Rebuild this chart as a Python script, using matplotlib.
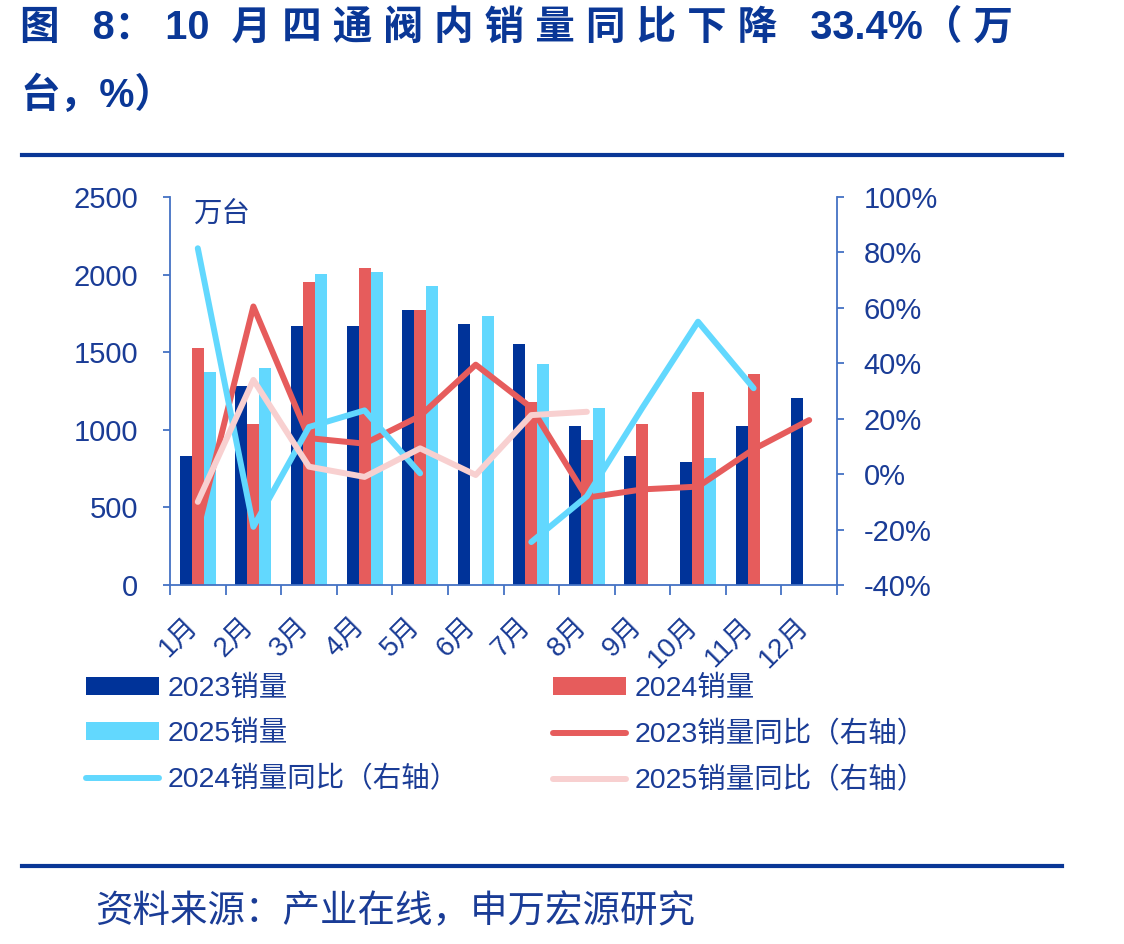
import numpy as np
import matplotlib.pyplot as plt
from matplotlib.ticker import FuncFormatter
from matplotlib.transforms import ScaledTranslation

plt.rcParams['font.family'] = ['Liberation Sans', 'Noto Sans CJK SC', 'DejaVu Sans']

# data (万台, %)
months = ['1月', '2月', '3月', '4月', '5月', '6月', '7月', '8月', '9月', '10月', '11月', '12月']
sales_2023 = [830, 1282, 1669, 1669, 1770, 1680, 1553, 1024, 831, 792, 1024, 1203]
sales_2024 = [1525, 1035, 1950, 2040, 1770, np.nan, 1177, 934, 1035, 1241, 1360, np.nan]
sales_2025 = [1370, 1396, 2002, 2015, 1925, 1731, 1422, 1138, np.nan, 816, np.nan, np.nan]
yoy_2023 = [-20, 60.5, 13, 11, 21, 39.5, 24, -8.5, -5.5, -4.5, 9, 19.5]
yoy_2024 = [81.5, -19, 17, 23, 0.3, np.nan, -24.5, -8, 24, 55, 31, np.nan]
yoy_2025 = [-10, 34, 2.7, -1, 9.3, -0.3, 21.3, 22.5, np.nan, np.nan, np.nan, np.nan]

NAVY = '#003399'
RED = '#E65C5C'
CYAN = '#62D8FE'
PINK = '#F8D0D0'
TEXT = '#1A3C96'
SPINE = '#4472C4'

fig = plt.figure(figsize=(11.24, 9.44), dpi=100)
ax = fig.add_axes([170 / 1124, 1 - 585 / 944, 667 / 1124, 388 / 944])
ax2 = ax.twinx()

x = np.arange(len(months))
w = 0.216
b1 = ax.bar(x - w, sales_2023, w, color=NAVY, label='2023销量')
b2 = ax.bar(x, sales_2024, w, color=RED, label='2024销量')
b3 = ax.bar(x + w, sales_2025, w, color=CYAN, label='2025销量')

lkw = dict(lw=4.3, solid_capstyle='round')
l1, = ax2.plot(x, yoy_2023, color=RED, label='2023销量同比（右轴）', **lkw)
l2, = ax2.plot(x, yoy_2024, color=CYAN, label='2024销量同比（右轴）', **lkw)
l3, = ax2.plot(x, yoy_2025, color=PINK, label='2025销量同比（右轴）', **lkw)

ax.set_xlim(-0.5, 11.5)
ax.set_ylim(0, 2500)
ax.set_yticks(range(0, 2501, 500))
ax2.set_ylim(-40, 100)
ax2.set_yticks(range(-40, 101, 20))
ax2.yaxis.set_major_formatter(FuncFormatter(lambda v, p: f'{v:.0f}%'))

# month boundaries carry the tick marks, centres carry the labels
ax.set_xticks(np.arange(-0.5, 12, 1))
ax.set_xticklabels([])
ax.set_xticks(x, minor=True)
ax.set_xticklabels(months, minor=True, rotation=45, ha='right', va='top')
ax.tick_params(axis='x', which='major', length=7, width=1.3, color=SPINE, direction='out')
ax.tick_params(axis='x', which='minor', length=0, pad=20, labelsize=20, labelcolor=TEXT)
shift = ScaledTranslation(5 / 100, 0, fig.dpi_scale_trans)
for lab in ax.get_xticklabels(minor=True):
    lab.set_transform(lab.get_transform() + shift)

for a in (ax, ax2):
    for s in a.spines.values():
        s.set_color(SPINE)
        s.set_linewidth(1.3)
    a.spines['top'].set_visible(False)
ax.spines['right'].set_visible(False)
ax2.spines['left'].set_visible(False)
ax2.spines['bottom'].set_visible(False)
ax.tick_params(axis='y', length=5, width=1.3, color=SPINE, labelsize=21, labelcolor=TEXT, pad=18)
ax2.tick_params(axis='y', length=5, width=1.3, color=SPINE, labelsize=21, labelcolor=TEXT, pad=14)

ax.text(0.034, 0.955, '万台', transform=ax.transAxes, fontsize=20.5, color=TEXT,
        ha='left', va='center')

fig.legend(handles=[b1, b3, l2, b2, l1, l3], loc='upper left',
           bbox_to_anchor=(86 / 1124, 1 - 676 / 944), ncol=2, frameon=False,
           fontsize=20.5, labelcolor=TEXT, handlelength=2.55, handleheight=0.6,
           handletextpad=0.32, columnspacing=3.3, labelspacing=0.66, borderpad=0,
           borderaxespad=0)

# title, rules and source
title_kw = dict(fontsize=28.5, fontweight='bold', color='#0A3796', ha='left', va='center')
fig.text(20 / 1124, 1 - 28 / 944, '图   8： 10  月 四 通 阀 内 销 量 同 比 下 降   33.4%（ 万', **title_kw)
fig.text(20 / 1124, 1 - 95 / 944, '台，%）', **title_kw)
fig.add_artist(plt.Line2D([22 / 1124, 1062 / 1124], [1 - 155 / 944] * 2, color='#0A3796', lw=3))
fig.add_artist(plt.Line2D([22 / 1124, 1062 / 1124], [1 - 866 / 944] * 2, color='#0A3796', lw=3))
fig.text(95 / 1124, 1 - 912 / 944, '资料来源：产业在线，申万宏源研究', fontsize=27,
         color=TEXT, ha='left', va='center')

fig.savefig('out.png', dpi=100)
